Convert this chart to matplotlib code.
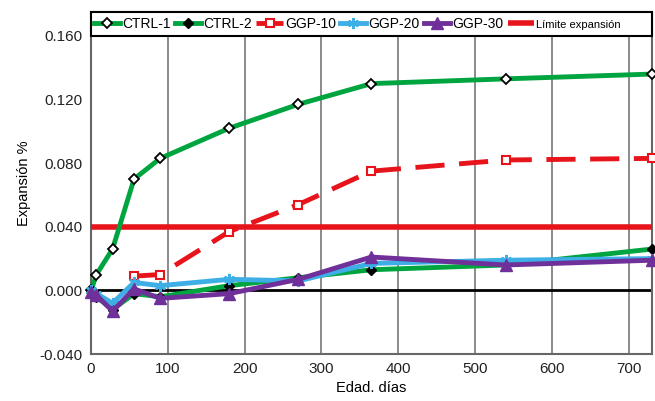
import matplotlib
matplotlib.use('Agg')
from matplotlib import pyplot as plt
from matplotlib.patches import Rectangle

plt.rcParams['font.family'] = ['Liberation Sans', 'DejaVu Sans']

days = [0, 7, 28, 56, 90, 180, 270, 365, 540, 730]
ctrl1 = [0.000, 0.010, 0.026, 0.070, 0.083, 0.102, 0.117, 0.130, 0.133, 0.136]
ctrl2 = [-0.001, -0.004, -0.012, -0.002, -0.004, 0.003, 0.008, 0.013, 0.016, 0.026]
ggp10_days = [56, 90, 180, 270, 365, 540, 730]
ggp10 = [0.009, 0.010, 0.037, 0.054, 0.075, 0.082, 0.083]
ggp20 = [0.000, -0.002, -0.008, 0.005, 0.003, 0.007, 0.006, 0.017, 0.019, 0.020]
ggp30 = [-0.001, -0.003, -0.013, 0.001, -0.005, -0.002, 0.007, 0.021, 0.016, 0.019]
limit_days = [0, 730]
limit = [0.040, 0.040]

green = '#00a540'
red = '#e8141c'
blue = '#3daee6'
purple = '#70309a'

fig = plt.figure(figsize=(6.55, 4.01), dpi=100)
ax = fig.add_axes([0.139, 0.117, 0.856, 0.853])

ax.plot(days, ctrl1, color=green, lw=3.5, marker='D', ms=5.5, mfc='white', mec='black', mew=1.3,
        label='CTRL-1', zorder=4, clip_on=False)
ax.plot(days, ctrl2, color=green, lw=3.5, marker='D', ms=5.5, mfc='black', mec='black',
        label='CTRL-2', zorder=4, clip_on=False)
ax.plot(ggp10_days, ggp10, color=red, lw=3.5, dashes=(6, 3), marker='s', ms=6, mfc='white',
        mec=red, mew=1.5, label='GGP-10', zorder=5, clip_on=False)
ax.plot(days, ggp20, color=blue, lw=3.5, marker=(6, 2, 0), ms=8, mec=blue, mew=1.5,
        label='GGP-20', zorder=5, clip_on=False)
ax.plot(days, ggp30, color=purple, lw=3.5, marker='^', ms=8, mfc=purple, mec=purple,
        label='GGP-30', zorder=6, clip_on=False)
ax.plot(limit_days, limit, color=red, lw=4, label='Límite expansión', zorder=3,
        solid_capstyle='butt', clip_on=False)

ax.axhline(0, color='black', lw=2, zorder=2)

ax.set_xlim(0, 730)
ax.set_ylim(-0.040, 0.175)
ax.set_xticks([0, 100, 200, 300, 400, 500, 600, 700])
ax.set_yticks([-0.04, 0.0, 0.04, 0.08, 0.12, 0.16])
ax.set_yticklabels(['-0.040', '0.000', '0.040', '0.080', '0.120', '0.160'])
ax.tick_params(axis='both', length=0, labelsize=11, colors='#222222', pad=6)
ax.xaxis.grid(True, color='#777777', lw=1.2)
ax.set_axisbelow(True)
for s in ax.spines.values():
    s.set_color('#666666')
    s.set_linewidth(1.5)

ax.set_xlabel('Edad. días', fontsize=10.5, labelpad=3)
ax.set_ylabel('Expansión %', fontsize=10.5, labelpad=6)

# legend band across the top of the plot
band = Rectangle((0, 0.93), 1, 0.07, transform=ax.transAxes, facecolor='white',
                 edgecolor='black', lw=1.5, zorder=9, clip_on=False)
ax.add_patch(band)

leg = ax.legend(loc='center left', ncol=6, bbox_to_anchor=(0, 0.965),
                fontsize=10, frameon=False, handlelength=1.9, handletextpad=0.15,
                columnspacing=0.3, borderpad=0.1, borderaxespad=0.1)
leg.set_zorder(10)
leg.get_texts()[-1].set_fontsize(8)

plt.savefig('out.png', dpi=100)
